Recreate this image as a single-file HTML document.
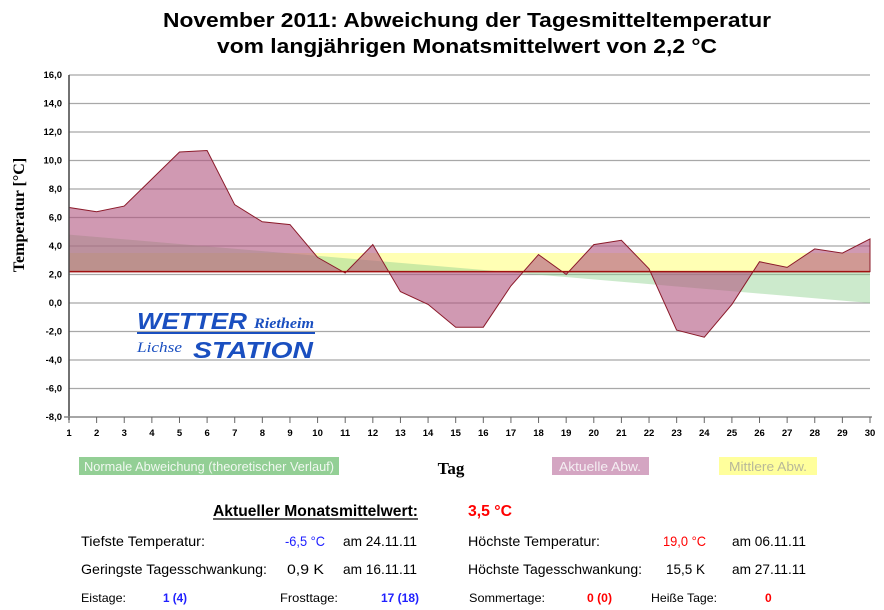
<!DOCTYPE html>
<html><head><meta charset="utf-8"><style>
body{margin:0;background:#fff;width:884px;height:610px;overflow:hidden;font-family:"Liberation Sans",sans-serif;}
</style></head><body>
<svg width="884" height="610" style="position:absolute;left:0;top:0" font-family="Liberation Sans, sans-serif">
<text x="467" y="27" font-size="20" font-weight="bold" text-anchor="middle" textLength="608" lengthAdjust="spacingAndGlyphs">November 2011: Abweichung der Tagesmitteltemperatur</text>
<text x="467" y="53" font-size="20" font-weight="bold" text-anchor="middle" textLength="500" lengthAdjust="spacingAndGlyphs">vom langjährigen Monatsmittelwert von 2,2 °C</text>
<g stroke="#a8a8a8" stroke-width="1.3">
<line x1="69" x2="870" y1="75" y2="75"/><line x1="69" x2="870" y1="103.5" y2="103.5"/><line x1="69" x2="870" y1="132" y2="132"/><line x1="69" x2="870" y1="160.5" y2="160.5"/><line x1="69" x2="870" y1="189" y2="189"/><line x1="69" x2="870" y1="217.5" y2="217.5"/><line x1="69" x2="870" y1="246" y2="246"/><line x1="69" x2="870" y1="274.5" y2="274.5"/><line x1="69" x2="870" y1="303" y2="303"/><line x1="69" x2="870" y1="331.5" y2="331.5"/><line x1="69" x2="870" y1="360" y2="360"/><line x1="69" x2="870" y1="388.5" y2="388.5"/>
</g>
<rect x="69" y="253" width="801" height="18.6" fill="#ffffb4"/>
<polygon points="69,234.6 870,303 870,271.6 69,271.6" fill="#8fd08f" opacity="0.45"/>
<polygon fill="#b0557f" fill-opacity="0.6" stroke="#8b1a2a" stroke-width="1" points="69,271.6 69,207.5 96.6,211.8 124.2,206.1 151.9,179 179.5,152 207.1,150.5 234.7,204.7 262.3,221.8 290,224.6 317.6,257.4 345.2,273 372.8,244.6 400.4,291.6 428.1,304.4 455.7,327.2 483.3,327.2 510.9,285.9 538.5,254.6 566.2,274.5 593.8,244.6 621.4,240.3 649,268.8 676.6,330.1 704.3,337.2 731.9,304.4 759.5,261.7 787.1,267.4 814.7,248.9 842.4,253.1 870,238.9 870,271.6"/>
<line x1="69" x2="870" y1="271.6" y2="271.6" stroke="#a01010" stroke-width="1.5"/>
<line x1="69" x2="69" y1="75" y2="420" stroke="#444" stroke-width="1.5"/>
<line x1="64" x2="872" y1="417" y2="417" stroke="#888" stroke-width="1.5"/>
<g font-size="9.5" font-weight="bold" text-anchor="end" fill="#000">
<text x="62" y="78">16,0</text><text x="62" y="106.5">14,0</text><text x="62" y="135">12,0</text><text x="62" y="163.5">10,0</text><text x="62" y="192">8,0</text><text x="62" y="220.5">6,0</text><text x="62" y="249">4,0</text><text x="62" y="277.5">2,0</text><text x="62" y="306">0,0</text><text x="62" y="334.5">-2,0</text><text x="62" y="363">-4,0</text><text x="62" y="391.5">-6,0</text><text x="62" y="420">-8,0</text>
</g>
<g font-size="9.5" font-weight="bold" text-anchor="middle" fill="#000" id="xl"></g>
<text transform="translate(24,215) rotate(-90)" font-family="Liberation Serif, serif" font-weight="bold" font-size="16" text-anchor="middle">Temperatur [°C]</text>
<text x="137" y="329" font-size="23" font-weight="900" font-style="italic" fill="#1a4fc0" textLength="110" lengthAdjust="spacingAndGlyphs">WETTER</text>
<text x="254" y="328" font-family="Liberation Serif, serif" font-size="15" font-weight="bold" font-style="italic" fill="#1a4fc0" textLength="60" lengthAdjust="spacingAndGlyphs">Rietheim</text>
<line x1="137" x2="315" y1="333" y2="333" stroke="#1a4fc0" stroke-width="2"/>
<text x="137" y="352" font-family="Liberation Serif, serif" font-size="15" font-style="italic" fill="#1a4fc0" textLength="45" lengthAdjust="spacingAndGlyphs">Lichse</text>
<text x="193" y="358" font-size="23" font-weight="900" font-style="italic" fill="#1a4fc0" textLength="120" lengthAdjust="spacingAndGlyphs">STATION</text>
<rect x="79" y="457" width="260" height="18" fill="#93cf95"/>
<text x="84" y="471" font-size="13" fill="#f0f8f0" textLength="250" lengthAdjust="spacingAndGlyphs">Normale Abweichung (theoretischer Verlauf)</text>
<text x="451" y="474" font-family="Liberation Serif, serif" font-size="17" font-weight="bold" text-anchor="middle">Tag</text>
<rect x="552" y="457" width="97" height="18" fill="#d4a5c2"/>
<text x="559" y="471" font-size="13" fill="#f4eef2" textLength="82" lengthAdjust="spacingAndGlyphs">Aktuelle Abw.</text>
<rect x="719" y="457" width="98" height="18" fill="#ffff9c"/>
<text x="729" y="471" font-size="13" fill="#b8b89a" textLength="78" lengthAdjust="spacingAndGlyphs">Mittlere Abw.</text>
<text x="213" y="516" font-size="16" font-weight="bold" textLength="205" lengthAdjust="spacingAndGlyphs">Aktueller Monatsmittelwert:</text>
<line x1="213" x2="418" y1="519" y2="519" stroke="#000" stroke-width="1.2"/>
<text x="468" y="516" font-size="16" font-weight="bold" fill="#ff0000" textLength="44" lengthAdjust="spacingAndGlyphs">3,5 °C</text>
<g font-size="14">
<text x="81" y="546" textLength="124" lengthAdjust="spacingAndGlyphs">Tiefste Temperatur:</text>
<text x="285" y="546" fill="#2020ff" textLength="40" lengthAdjust="spacingAndGlyphs">-6,5 °C</text>
<text x="343" y="546" textLength="74" lengthAdjust="spacingAndGlyphs">am 24.11.11</text>
<text x="468" y="546" textLength="132" lengthAdjust="spacingAndGlyphs">Höchste Temperatur:</text>
<text x="663" y="546" fill="#ff0000" textLength="43" lengthAdjust="spacingAndGlyphs">19,0 °C</text>
<text x="732" y="546" textLength="74" lengthAdjust="spacingAndGlyphs">am 06.11.11</text>
<text x="81" y="574" textLength="186" lengthAdjust="spacingAndGlyphs">Geringste Tagesschwankung:</text>
<text x="287" y="574" textLength="37" lengthAdjust="spacingAndGlyphs">0,9 K</text>
<text x="343" y="574" textLength="74" lengthAdjust="spacingAndGlyphs">am 16.11.11</text>
<text x="468" y="574" textLength="174" lengthAdjust="spacingAndGlyphs">Höchste Tagesschwankung:</text>
<text x="666" y="574" textLength="39" lengthAdjust="spacingAndGlyphs">15,5 K</text>
<text x="732" y="574" textLength="74" lengthAdjust="spacingAndGlyphs">am 27.11.11</text>
</g>
<g font-size="12">
<text x="81" y="602" textLength="45" lengthAdjust="spacingAndGlyphs">Eistage:</text>
<text x="163" y="602" fill="#2020ff" font-weight="bold" textLength="24" lengthAdjust="spacingAndGlyphs">1 (4)</text>
<text x="280" y="602" textLength="58" lengthAdjust="spacingAndGlyphs">Frosttage:</text>
<text x="381" y="602" fill="#2020ff" font-weight="bold" textLength="38" lengthAdjust="spacingAndGlyphs">17 (18)</text>
<text x="469" y="602" textLength="76" lengthAdjust="spacingAndGlyphs">Sommertage:</text>
<text x="587" y="602" fill="#ff0000" font-weight="bold" textLength="25" lengthAdjust="spacingAndGlyphs">0 (0)</text>
<text x="651" y="602" textLength="66" lengthAdjust="spacingAndGlyphs">Heiße Tage:</text>
<text x="765" y="602" fill="#ff0000" font-weight="bold">0</text>
</g>
<g id="tk" stroke="#666"></g>
</svg>
<script>
var ns="http://www.w3.org/2000/svg",xl=document.getElementById("xl"),tk=document.getElementById("tk");
for(var d=1;d<=30;d++){var x=69+(d-1)*801/29;
var t=document.createElementNS(ns,"text");t.setAttribute("x",x);t.setAttribute("y",436);t.textContent=d;xl.appendChild(t);
var l=document.createElementNS(ns,"line");l.setAttribute("x1",x);l.setAttribute("x2",x);l.setAttribute("y1",417);l.setAttribute("y2",423);tk.appendChild(l);}
</script>
</body></html>
